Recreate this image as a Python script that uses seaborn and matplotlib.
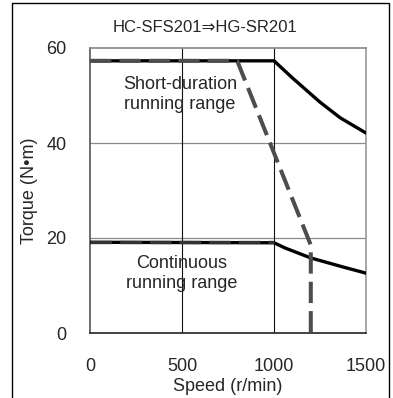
import matplotlib
matplotlib.use("Agg")
import matplotlib.pyplot as plt
import seaborn as sns
import pandas as pd
from matplotlib.patches import Rectangle

# Data
title = "HC-SFS201⇒HG-SR201"
short_speed = [0, 1000, 1100, 1250, 1360, 1500]
short_torque = [57.3, 57.3, 53.7, 48.6, 45.3, 42.1]
cont_speed = [0, 1000, 1060, 1200, 1375, 1500]
cont_torque = [19.1, 19.0, 17.9, 15.8, 13.9, 12.6]
old_short_speed = [0, 800, 1200, 1200]
old_short_torque = [57.3, 57.3, 18.5, 0]
old_cont_speed = [0, 1000]
old_cont_torque = [19.1, 19.1]
x_ticks = [0, 500, 1000, 1500]
y_ticks = [0, 20, 40, 60]

sns.set_style("white")
plt.rcParams['font.family'] = ['Liberation Sans', 'DejaVu Sans']

fig = plt.figure(figsize=(3.93, 3.98), dpi=100)
ax = fig.add_axes([90/393, (398-333)/398, (366-90)/393, (333-48)/398])

short_df = pd.DataFrame({"speed": short_speed, "torque": short_torque})
cont_df = pd.DataFrame({"speed": cont_speed, "torque": cont_torque})
old_s_df = pd.DataFrame({"speed": old_short_speed, "torque": old_short_torque})
old_c_df = pd.DataFrame({"speed": old_cont_speed, "torque": old_cont_torque})

# grid lines
for v in [20, 40]:
    ax.axhline(v, color="#8a8a8a", lw=0.9, zorder=1)
for v in [500, 1000]:
    ax.axvline(v, color="#111111", lw=0.8, zorder=1)

sns.lineplot(data=short_df, x="speed", y="torque", ax=ax, color="black", lw=2.4,
             sort=False, estimator=None, zorder=3)
sns.lineplot(data=cont_df, x="speed", y="torque", ax=ax, color="black", lw=2.4,
             sort=False, estimator=None, zorder=3)
sns.lineplot(data=old_s_df, x="speed", y="torque", ax=ax, color="#4d4d4d", lw=2.9,
             sort=False, estimator=None, zorder=4)
ax.lines[-1].set_dashes((5.3, 2.0))
sns.lineplot(data=old_c_df, x="speed", y="torque", ax=ax, color="#333333", lw=2.4,
             sort=False, estimator=None, zorder=4)
ax.lines[-1].set_dashes((6.5, 2.4))

ax.set_xlim(0, 1500)
ax.set_ylim(0, 60)
ax.set_xticks(x_ticks)
ax.set_yticks(y_ticks)
ax.tick_params(axis="x", labelsize=13, pad=18, length=0)
ax.tick_params(axis="y", labelsize=13, pad=17, length=0)
ax.set_xlabel("Speed (r/min)", fontsize=13, labelpad=2)
ax.set_ylabel("Torque (N•m)", fontsize=13, labelpad=6)

for side, col in [("left", "#555555"), ("bottom", "#222222"), ("top", "#888888"), ("right", "#999999")]:
    ax.spines[side].set_color(col)
    ax.spines[side].set_linewidth(1.2)
    ax.spines[side].set_visible(True)

ax.text(490, 54.2, "Short-duration\nrunning range", ha="center", va="top",
        fontsize=13, linespacing=1.25)
ax.text(500, 16.4, "Continuous\nrunning range", ha="center", va="top",
        fontsize=13, linespacing=1.25)

fig.text(205/393, 1 - 27/398, title, ha="center", va="center", fontsize=12)

fig.patches.append(Rectangle((12/393, -0.05), (389-12)/393, 1.05 - 3/398,
                             transform=fig.transFigure, fill=False,
                             edgecolor="black", lw=1.0))

fig.savefig("out.png", dpi=100)
